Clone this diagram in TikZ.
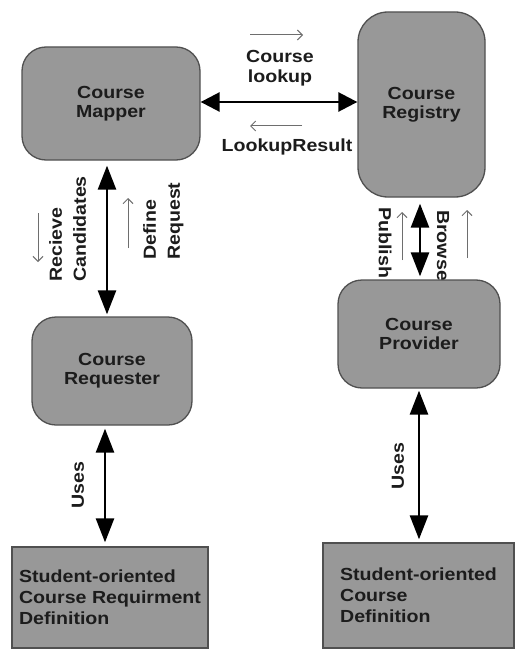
\documentclass[tikz,border=0pt]{standalone}
\usepackage{fontspec}
\setmainfont[FakeStretch=1.12]{Liberation Sans}
\usetikzlibrary{arrows.meta}
\pgfdeclarelayer{bg}
\pgfsetlayers{bg,main}
\definecolor{boxfill}{RGB}{152,152,152}
\definecolor{boxline}{RGB}{80,80,80}
\definecolor{txt}{RGB}{28,28,28}
\definecolor{thinc}{RGB}{110,110,110}
\begin{document}
\begin{tikzpicture}[x=1pt,y=-1pt,
  every node/.style={font=\fontsize{17.5}{19}\selectfont\bfseries, text=txt},
  rbox/.style={draw=boxline, line width=1.3pt, fill=boxfill, rounded corners=24pt, align=center, inner sep=0pt},
  dbox/.style={draw=boxline, line width=1.3pt, fill=boxfill, align=left, inner sep=0pt, font=\fontsize{17.5}{21}\selectfont\bfseries},
  bigv/.style={line width=2.6pt, {Triangle[length=24pt,width=18pt]}-{Triangle[length=24pt,width=18pt]}},
  bigh/.style={line width=2.6pt, {Triangle[length=19pt,width=19pt]}-{Triangle[length=19pt,width=19pt]}},
  thinarr/.style={draw=thinc, line width=1pt, -{Straight Barb[length=5pt,width=10pt]}},
  rlabel/.style={inner sep=0pt, align=left, font=\fontsize{17.5}{24}\selectfont\bfseries}
]
\useasboundingbox (0,0) rectangle (516,650);
\begin{pgfonlayer}{bg}
\fill[white] (0,0) rectangle (516,650);
\end{pgfonlayer}

% boxes
\node[rbox, minimum width=178pt, minimum height=113pt] (mapper) at (111,103.5) {Course\\Mapper};
\node[rbox, minimum width=127pt, minimum height=185pt, rounded corners=30pt] (registry) at (421.5,104.5) {Course\\Registry};
\node[rbox, minimum width=160pt, minimum height=108pt] (requester) at (112,371) {Course\\Requester};
\node[rbox, minimum width=162pt, minimum height=108pt] (provider) at (419,334) {Course\\Provider};
\node[dbox, minimum width=196pt, minimum height=101pt] (ldef) at (110,597.5) {Student-oriented\\Course Requirment\\Definition};
\node[dbox, minimum width=191pt, minimum height=105pt] (rdef) at (418.5,595.5) {Student-oriented\\Course\\Definition};

% connectors
\draw[bigh] ([yshift=1.5pt]mapper.east) -- ([yshift=1.5pt]mapper.east -| registry.west);
\draw[bigv] ([xshift=-4pt,yshift=-5pt]mapper.south) -- ([xshift=-5pt,yshift=2pt]requester.north);
\draw[bigv] ([xshift=-7pt,yshift=-3pt]requester.south) -- ([xshift=-5pt,yshift=4pt]ldef.north);
\draw[bigv] ([xshift=-1.5pt,yshift=-6pt]registry.south) -- ([xshift=1pt,yshift=3pt]provider.north);
\draw[bigv] ([yshift=-2pt]provider.south) -- ([xshift=0.5pt,yshift=3pt]rdef.north);

% labels
\node[align=center, font=\fontsize{17.5}{20}\selectfont\bfseries] (lookup) at (280,68) {Course\\lookup};
\node (result) at (287,147) {LookupResult};
\node[rlabel, rotate=90, anchor=north west] (recieve) at (49,282) {Recieve\\Candidates};
\node[rlabel, rotate=90, anchor=north west] (define) at (143,260) {Define\\Request};
\node[inner sep=0pt, rotate=90] (uses1) at (78,485) {Uses};
\node[inner sep=0pt, rotate=90] (uses2) at (398,466) {Uses};
\begin{pgfonlayer}{bg}
\node[inner sep=0pt, rotate=-90, anchor=west] (publish) at (385,207) {Publish};
\node[inner sep=0pt, rotate=-90, anchor=west] (browse) at (443,210) {Browse};
\end{pgfonlayer}

% small direction arrows
\coordinate (a1) at (250,35); \coordinate (a2) at (303,35);
\coordinate (b1) at (302,126); \coordinate (b2) at (250,126);
\coordinate (c1) at (38,213); \coordinate (c2) at (38,262);
\coordinate (d1) at (128,248); \coordinate (d2) at (128,198);
\coordinate (e1) at (402,260); \coordinate (e2) at (402,212);
\coordinate (f1) at (467,258); \coordinate (f2) at (467,210);
\draw[thinarr] (a1) -- (a2);
\draw[thinarr] (b1) -- (b2);
\draw[thinarr] (c1) -- (c2);
\draw[thinarr] (d1) -- (d2);
\draw[thinarr] (e1) -- (e2);
\draw[thinarr] (f1) -- (f2);
\end{tikzpicture}
\end{document}
